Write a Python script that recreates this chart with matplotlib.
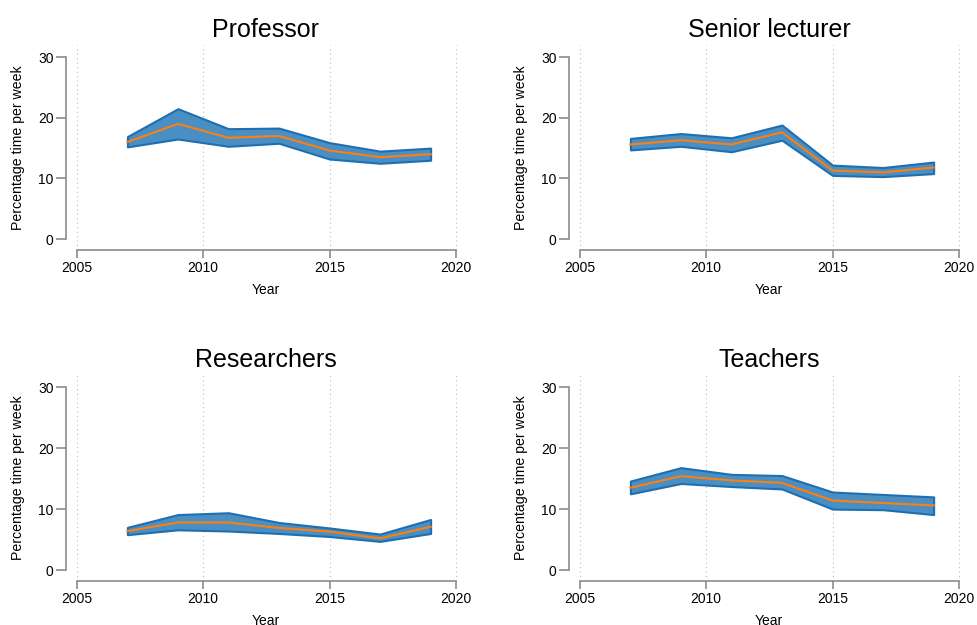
import numpy as np
import matplotlib
matplotlib.use('Agg')
import matplotlib.pyplot as plt

plt.rcParams['font.family'] = ['Liberation Sans', 'DejaVu Sans']

# Data
years = [2007, 2009, 2011, 2013, 2015, 2017, 2019]
groups = ['Professor', 'Senior lecturer', 'Researchers', 'Teachers']

mean_prof = [16.0, 19.0, 16.7, 17.0, 14.6, 13.5, 14.0]
low_prof = [15.2, 16.5, 15.3, 15.8, 13.2, 12.5, 13.0]
high_prof = [16.9, 21.5, 18.2, 18.3, 15.9, 14.5, 15.0]

mean_senior = [15.6, 16.3, 15.6, 17.6, 11.3, 11.0, 11.8]
low_senior = [14.7, 15.3, 14.4, 16.3, 10.5, 10.3, 10.8]
high_senior = [16.6, 17.4, 16.7, 18.8, 12.2, 11.8, 12.7]

mean_res = [6.4, 7.8, 7.8, 6.9, 6.3, 5.2, 7.1]
low_res = [5.8, 6.6, 6.4, 6.0, 5.5, 4.7, 6.0]
high_res = [7.0, 9.1, 9.4, 7.8, 6.9, 5.9, 8.3]

mean_teach = [13.5, 15.4, 14.7, 14.3, 11.4, 11.0, 10.6]
low_teach = [12.5, 14.2, 13.7, 13.3, 10.0, 9.9, 9.1]
high_teach = [14.6, 16.8, 15.7, 15.5, 12.8, 12.4, 12.0]

means = [mean_prof, mean_senior, mean_res, mean_teach]
lows = [low_prof, low_senior, low_res, low_teach]
highs = [high_prof, high_senior, high_res, high_teach]

# Figure setup (pixel positions of each panel: left, bottom, width, height)
W, H = 977, 625
panels = [
    (66, 250, 400, 205),
    (569, 250, 400, 205),
    (66, 581, 400, 206),
    (569, 581, 400, 206),
]

fig = plt.figure(figsize=(W / 100, H / 100), dpi=100)
spine_col = '#8c8c8c'

for i, (px, py, pw, ph) in enumerate(panels):
    ax = fig.add_axes([px / W, 1 - py / H, pw / W, ph / H])

    ax.fill_between(years, lows[i], highs[i], facecolor='#4a8fc4',
                    edgecolor='#1f6fb0', linewidth=1.5, zorder=2)
    ax.plot(years, means[i], color='#ff7f0e', linewidth=1.5, zorder=3)

    ax.set_xlim(2004.57, 2020.4)
    ax.set_ylim(-1.8, 32)
    ax.set_xticks([2005, 2010, 2015, 2020])
    ax.set_yticks([0, 10, 20, 30])

    # Despined look
    ax.spines['top'].set_visible(False)
    ax.spines['right'].set_visible(False)
    ax.spines['left'].set_bounds(0, 30)
    ax.spines['bottom'].set_bounds(2005, 2020)
    for s in ['left', 'bottom']:
        ax.spines[s].set_color(spine_col)
        ax.spines[s].set_linewidth(1.2)

    ax.tick_params(axis='y', direction='out', length=7, width=1.2,
                   color=spine_col, labelsize=10, pad=2)
    ax.tick_params(axis='x', direction='out', length=6, width=1.2,
                   color=spine_col, labelsize=10, pad=2)

    ax.grid(axis='x', linestyle=(0, (1, 3)), color='#bbbbbb', linewidth=0.8)
    ax.set_axisbelow(True)

    ax.set_xlabel('Year', fontsize=10, labelpad=6)
    ax.set_ylabel('Percentage time per week', fontsize=10.2, labelpad=9)
    ax.set_title(groups[i], fontsize=18, pad=6)

fig.savefig('out.png', dpi=100)
